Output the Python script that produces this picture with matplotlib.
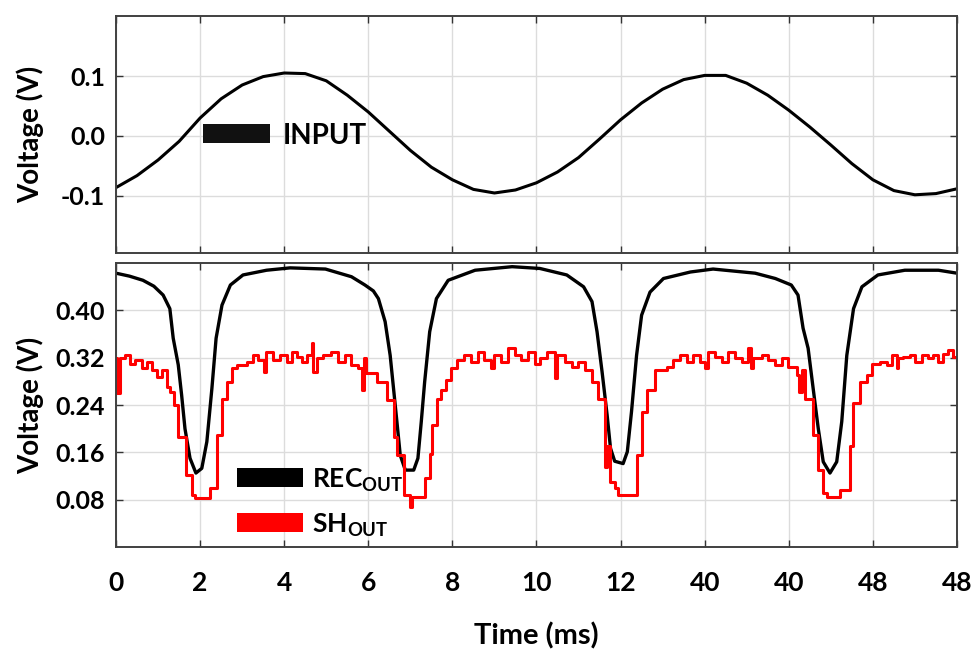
import matplotlib
matplotlib.use('Agg')
import matplotlib.pyplot as plt
from matplotlib.patches import Rectangle

plt.rcParams['font.family'] = ['Lato', 'DejaVu Sans']
plt.rcParams['font.weight'] = 'bold'
plt.rcParams['mathtext.fontset'] = 'custom'
plt.rcParams['mathtext.rm'] = 'Lato:bold'
plt.rcParams['mathtext.it'] = 'Lato:bold'
plt.rcParams['mathtext.bf'] = 'Lato:bold'

# x positions are in tick units (one unit per labelled tick)
tick_pos = list(range(11))
tick_labels = ['0', '2', '4', '6', '8', '10', '12', '40', '40', '48', '48']

# input sine
input_t = [0.00, 0.25, 0.50, 0.75, 1.00, 1.25, 1.50, 1.75, 2.00, 2.25, 2.50,
           2.75, 3.00, 3.25, 3.50, 3.75, 4.00, 4.25, 4.50, 4.75, 5.00,
           5.25, 5.50, 5.75, 6.00, 6.25, 6.50, 6.75, 7.00, 7.25, 7.50,
           7.75, 8.00, 8.25, 8.50, 8.75, 9.00, 9.25, 9.50, 9.75, 10.00]
input_v = [-0.086, -0.066, -0.040, -0.009, 0.030, 0.062, 0.085, 0.099, 0.105, 0.104, 0.092,
           0.068, 0.040, 0.008, -0.024, -0.052, -0.073, -0.089, -0.095, -0.090, -0.078,
           -0.060, -0.036, -0.005, 0.027, 0.055, 0.078, 0.094, 0.101, 0.101, 0.088,
           0.068, 0.043, 0.015, -0.015, -0.046, -0.073, -0.091, -0.098, -0.096, -0.088]

# REC_OUT (black)
rec_t = [0.00, 0.16, 0.32, 0.45, 0.56, 0.64, 0.68, 0.74, 0.78, 0.82, 0.88, 0.95, 1.02, 1.08, 1.14,
         1.19, 1.26, 1.36, 1.51, 1.79, 2.07, 2.49, 2.80, 2.96, 3.06, 3.12, 3.20, 3.26, 3.30,
         3.34, 3.38, 3.44, 3.54, 3.59, 3.63, 3.67, 3.73, 3.81, 3.95, 4.27, 4.71, 5.04,
         5.36, 5.56, 5.66, 5.72, 5.78, 5.84, 5.88, 5.93, 6.03, 6.08, 6.13, 6.19, 6.25,
         6.35, 6.51, 6.83, 7.10, 7.60, 7.84, 8.03, 8.11, 8.17, 8.23, 8.29, 8.35, 8.41,
         8.49, 8.57, 8.63, 8.69, 8.77, 8.87, 9.06, 9.38, 9.78, 10.00]
rec_v = [0.463, 0.458, 0.451, 0.441, 0.426, 0.403, 0.353, 0.308, 0.257, 0.200, 0.150, 0.125, 0.133, 0.178, 0.268,
         0.353, 0.409, 0.443, 0.460, 0.468, 0.472, 0.470, 0.457, 0.443, 0.433, 0.420, 0.381, 0.324, 0.268,
         0.212, 0.155, 0.130, 0.130, 0.150, 0.212, 0.279, 0.364, 0.420, 0.451, 0.468, 0.474, 0.471,
         0.460, 0.440, 0.415, 0.364, 0.296, 0.223, 0.167, 0.145, 0.141, 0.161, 0.229, 0.324, 0.392,
         0.431, 0.454, 0.465, 0.470, 0.463, 0.454, 0.443, 0.426, 0.370, 0.336, 0.268, 0.201, 0.144,
         0.125, 0.144, 0.212, 0.324, 0.403, 0.440, 0.460, 0.468, 0.468, 0.463]

# SH_OUT (red), sample-and-hold steps
sh_t = [0.000, 0.016, 0.048, 0.107, 0.167, 0.226, 0.306, 0.365, 0.424, 0.484, 0.543, 0.603,
        0.642, 0.690, 0.742, 0.833, 0.900, 0.940, 1.118, 1.197, 1.257, 1.316, 1.376, 1.435,
        1.554, 1.633, 1.693, 1.760, 1.784, 1.871, 1.950, 2.030, 2.089, 2.149, 2.208, 2.268,
        2.327, 2.347, 2.386, 2.466, 2.560, 2.640, 2.720, 2.800, 2.880, 2.930, 2.945, 2.970,
        3.100, 3.220, 3.300, 3.340, 3.420, 3.500, 3.520, 3.670, 3.730, 3.760, 3.820, 3.860,
        3.920, 3.980, 4.060, 4.140, 4.220, 4.300, 4.380, 4.460, 4.500, 4.580, 4.660, 4.740,
        4.820, 4.900, 4.980, 5.042, 5.121, 5.220, 5.248, 5.339, 5.419, 5.498, 5.577, 5.656,
        5.736, 5.815, 5.835, 5.874, 5.934, 5.973, 6.191, 6.251, 6.310, 6.409, 6.548, 6.628,
        6.707, 6.786, 6.865, 6.945, 7.004, 7.044, 7.123, 7.202, 7.281, 7.361, 7.440, 7.519,
        7.547, 7.579, 7.677, 7.757, 7.836, 7.915, 7.994, 8.093, 8.121, 8.153, 8.193, 8.292,
        8.351, 8.411, 8.450, 8.609, 8.728, 8.767, 8.847, 8.926, 8.985, 9.084, 9.164, 9.223,
        9.283, 9.302, 9.362, 9.441, 9.500, 9.580, 9.659, 9.718, 9.778, 9.837, 9.897, 9.956,
        10.000]
sh_v = [0.319, 0.260, 0.319, 0.325, 0.310, 0.316, 0.302, 0.313, 0.299, 0.288, 0.299, 0.271,
        0.262, 0.240, 0.186, 0.122, 0.088, 0.082, 0.100, 0.189, 0.251, 0.279, 0.302, 0.308,
        0.313, 0.325, 0.316, 0.296, 0.330, 0.316, 0.324, 0.313, 0.330, 0.322, 0.313, 0.324,
        0.345, 0.296, 0.319, 0.324, 0.330, 0.313, 0.325, 0.308, 0.302, 0.265, 0.319, 0.294,
        0.279, 0.248, 0.186, 0.155, 0.088, 0.068, 0.085, 0.116, 0.158, 0.206, 0.250, 0.266,
        0.282, 0.302, 0.316, 0.325, 0.313, 0.330, 0.316, 0.302, 0.324, 0.313, 0.336, 0.324,
        0.316, 0.330, 0.310, 0.319, 0.330, 0.285, 0.324, 0.313, 0.305, 0.313, 0.299, 0.279,
        0.251, 0.135, 0.170, 0.110, 0.099, 0.088, 0.155, 0.228, 0.265, 0.299, 0.305, 0.316,
        0.324, 0.313, 0.324, 0.313, 0.302, 0.330, 0.322, 0.313, 0.330, 0.319, 0.313, 0.336,
        0.302, 0.319, 0.325, 0.316, 0.308, 0.319, 0.305, 0.290, 0.262, 0.299, 0.251, 0.189,
        0.130, 0.091, 0.085, 0.096, 0.170, 0.243, 0.279, 0.290, 0.310, 0.313, 0.308, 0.325,
        0.302, 0.319, 0.322, 0.325, 0.313, 0.325, 0.319, 0.325, 0.313, 0.327, 0.333, 0.322,
        0.316]

top_yticks = [-0.1, 0.0, 0.1]
bot_yticks = [0.08, 0.16, 0.24, 0.32, 0.40]

fig = plt.figure(figsize=(9.75, 6.51), dpi=100)
ax1 = fig.add_axes([0.119, 0.6114, 0.8625, 0.364])
ax2 = fig.add_axes([0.119, 0.1598, 0.8625, 0.436])

for ax in (ax1, ax2):
    ax.set_xlim(0, 10)
    ax.set_xticks(tick_pos)
    ax.grid(True, color='#dcdcdc', linewidth=1.0)
    ax.set_axisbelow(True)
    ax.tick_params(direction='in', length=5, width=1, color='#333333',
                   top=True, right=True, labelsize=18, pad=8)
    for s in ax.spines.values():
        s.set_color('#404040')
        s.set_linewidth(1.4)

# top panel
ax1.plot(input_t, input_v, color='black', linewidth=2.2)
ax1.set_ylim(-0.195, 0.2)
ax1.set_yticks(top_yticks)
ax1.set_yticklabels(['-0.1', '0.0', '0.1'])
ax1.set_xticklabels([])
ax1.set_ylabel('Voltage (V)', fontsize=20, fontweight='bold')
ax1.add_patch(Rectangle((0.1035, 0.464), 0.0795, 0.08, transform=ax1.transAxes,
                        facecolor='#111111', edgecolor='none'))
ax1.text(0.1986, 0.458, 'INPUT', transform=ax1.transAxes, fontsize=20,
         fontweight='bold', va='baseline', ha='left')

# bottom panel
ax2.plot(rec_t, rec_v, color='black', linewidth=2.4)
ax2.plot(sh_t, sh_v, color='#ff0000', linewidth=2.2, drawstyle='steps-post')
ax2.set_ylim(0, 0.48)
ax2.set_yticks(bot_yticks)
ax2.set_yticklabels(['%.2f' % v for v in bot_yticks])
ax2.set_xticklabels(tick_labels, fontsize=19)
ax2.tick_params(axis='x', pad=17)
ax2.set_ylabel('Voltage (V)', fontsize=20, fontweight='bold')
ax2.set_xlabel('Time (ms)', fontsize=21, fontweight='bold', labelpad=20)

ax2.add_patch(Rectangle((0.144, 0.211), 0.078, 0.067, transform=ax2.transAxes,
                        facecolor='black', edgecolor='none'))
ax2.add_patch(Rectangle((0.144, 0.053), 0.078, 0.067, transform=ax2.transAxes,
                        facecolor='#ff0000', edgecolor='none'))
ax2.text(0.233, 0.209, r'REC$_{\mathrm{OUT}}$', transform=ax2.transAxes, fontsize=19,
         fontweight='bold', va='baseline', ha='left')
ax2.text(0.233, 0.051, r'SH$_{\mathrm{OUT}}$', transform=ax2.transAxes, fontsize=19,
         fontweight='bold', va='baseline', ha='left')

for lab in ax1.get_yticklabels() + ax2.get_yticklabels() + ax2.get_xticklabels():
    lab.set_fontweight('bold')

for ax in (ax1, ax2):
    ax.yaxis.set_label_coords(-0.086, 0.5)
fig.savefig('out.png', dpi=100)
